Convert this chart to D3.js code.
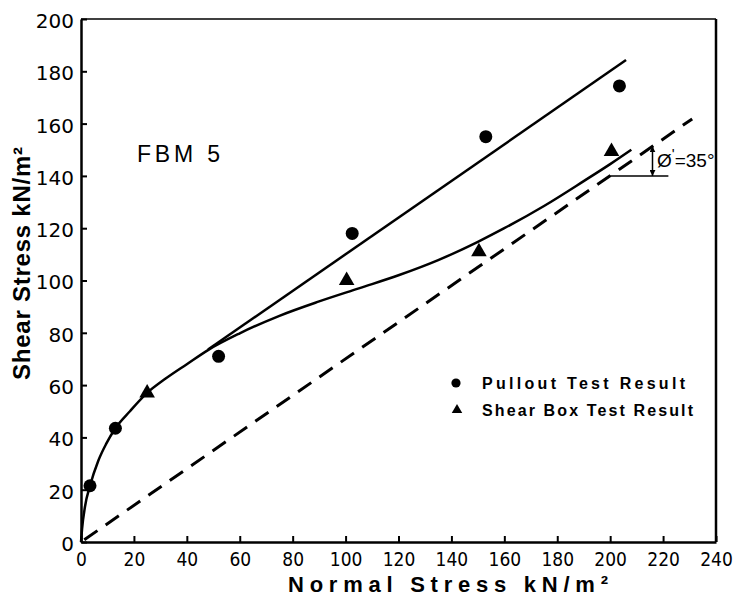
<!DOCTYPE html>
<html>
<head>
<meta charset="utf-8">
<script src="https://cdn.jsdelivr.net/npm/d3@7"></script>
<style>
  html, body { margin: 0; padding: 0; background: #fff; }
  svg { display: block; }
</style>
</head>
<body>
<svg id="chart" width="738" height="599"></svg>
<script>
// ---- data ----
const xTicks = [0, 20, 40, 60, 80, 100, 120, 140, 160, 180, 200, 220, 240];
const yTicks = [0, 20, 40, 60, 80, 100, 120, 140, 160, 180, 200];

const pulloutX = [3.4, 13, 52, 102.5, 153, 203.5];
const pulloutY = [21.5, 43.5, 71, 118, 155, 174.4];

const shearBoxX = [25, 100.4, 150.4, 200.5];
const shearBoxY = [57, 100, 111, 149.3];

// fitted curve through shear box / low pullout results (traced)
const curveX = [0, 0.4, 1.5, 3.4, 6.5, 9.5, 13, 18.5, 25, 32, 40, 48, 60, 75, 90, 105, 120, 135, 150, 160, 175, 190, 200, 208];
const curveY = [0, 5, 13.5, 21.5, 31, 37.5, 43.5, 50, 57, 62.5, 68, 73.4, 79.8, 86.5, 92, 97, 102, 107.8, 114.8, 120, 128.5, 138, 144.5, 150];

// straight pullout envelope
const envX = [48, 206];
const envY = [73.6, 184.3];

// dashed line phi' = 35 deg through origin
const dashX = [0, 231];
const dashY = [0, 161.8];

// angle annotation
const annBaseX = [200, 222];
const annBaseY = [140, 140];
const annArrowX = [216, 216];
const annArrowY = [151.3, 140];

const legendLabels = ["Pullout Test Result", "Shear Box Test Result"];

// ---- drawing ----
const svg = d3.select("#chart");
const x = d3.scaleLinear().domain([0, 240]).range([81, 716]);
const y = d3.scaleLinear().domain([0, 200]).range([542, 19]);

const ink = "#000";

// defs: arrowheads
const defs = svg.append("defs");
defs.append("marker").attr("id", "ah").attr("viewBox", "0 0 10 10")
  .attr("refX", 10).attr("refY", 5).attr("markerWidth", 6).attr("markerHeight", 6)
  .attr("markerUnits", "userSpaceOnUse").attr("orient", "auto-start-reverse")
  .append("path").attr("d", "M0,0 L10,5 L0,10 z").attr("fill", ink);

// frame top and right
svg.append("line").attr("x1", x(0)).attr("x2", x(240)).attr("y1", y(200)).attr("y2", y(200))
  .attr("stroke", ink).attr("stroke-width", 1.5);
svg.append("line").attr("x1", x(240)).attr("x2", x(240)).attr("y1", y(200)).attr("y2", y(0))
  .attr("stroke", ink).attr("stroke-width", 2.5);

// axes
const xAxis = d3.axisBottom(x).tickValues(xTicks).tickSizeInner(-6).tickSizeOuter(0).tickPadding(24)
  .tickFormat(d3.format("d"));
const gx = svg.append("g").attr("transform", `translate(0,${y(0)})`).call(xAxis);
gx.select(".domain").attr("stroke", ink).attr("stroke-width", 2.5);
gx.selectAll(".tick line").attr("stroke", ink).attr("stroke-width", 2);
gx.selectAll(".tick text").attr("font-family", "'DejaVu Sans Condensed','DejaVu Sans',sans-serif")
  .attr("font-size", 19).attr("fill", ink).attr("dy", 0);

const yAxis = d3.axisLeft(y).tickValues(yTicks).tickSizeInner(-6).tickSizeOuter(0).tickPadding(7)
  .tickFormat(d3.format("d"));
const gy = svg.append("g").attr("transform", `translate(${x(0)},0)`).call(yAxis);
gy.select(".domain").attr("stroke", ink).attr("stroke-width", 2.5);
gy.selectAll(".tick line").attr("stroke", ink).attr("stroke-width", 2);
gy.selectAll(".tick text").attr("font-family", "'DejaVu Sans',sans-serif")
  .attr("font-size", 20).attr("fill", ink).attr("dy", "0.42em");
svg.selectAll(".tick text").attr("font-weight", "normal");

// axis titles
svg.append("text").attr("x", 448).attr("y", 592).attr("text-anchor", "middle")
  .attr("font-family", "'Liberation Sans',Arial,sans-serif").attr("font-weight", "bold")
  .attr("font-size", 22).attr("textLength", 320).attr("lengthAdjust", "spacing")
  .attr("fill", ink).text("Normal Stress  kN/m²");

svg.append("text").attr("transform", "translate(30,263.5) rotate(-90)").attr("text-anchor", "middle")
  .attr("font-family", "'Liberation Sans',Arial,sans-serif").attr("font-weight", "bold")
  .attr("font-size", 24).attr("textLength", 233).attr("lengthAdjust", "spacing")
  .attr("fill", ink).text("Shear Stress  kN/m²");

// dashed line
const line = d3.line().x(d => x(d[0])).y(d => y(d[1]));
svg.append("path").datum(d3.zip(dashX, dashY)).attr("d", line)
  .attr("fill", "none").attr("stroke", ink).attr("stroke-width", 3).attr("stroke-dasharray", "16,10")
  .attr("stroke-dashoffset", -4);

// straight envelope
svg.append("path").datum(d3.zip(envX, envY)).attr("d", line)
  .attr("fill", "none").attr("stroke", ink).attr("stroke-width", 2.5);

// curve
const curveLine = d3.line().x(d => x(d[0])).y(d => y(d[1])).curve(d3.curveMonotoneX);
svg.append("path").datum(d3.zip(curveX, curveY)).attr("d", curveLine)
  .attr("fill", "none").attr("stroke", ink).attr("stroke-width", 2.5);

// markers
svg.append("g").selectAll("circle").data(d3.zip(pulloutX, pulloutY)).join("circle")
  .attr("cx", d => x(d[0])).attr("cy", d => y(d[1])).attr("r", 6.5).attr("fill", ink);

const tri = d3.symbol(d3.symbolTriangle, 105);
svg.append("g").selectAll("path").data(d3.zip(shearBoxX, shearBoxY)).join("path")
  .attr("d", tri).attr("transform", d => `translate(${x(d[0])},${y(d[1])})`).attr("fill", ink);

// FBM 5
svg.append("text").attr("x", 137).attr("y", 162)
  .attr("font-family", "'Liberation Sans',Arial,sans-serif").attr("font-size", 23)
  .attr("textLength", 83).attr("lengthAdjust", "spacing").attr("fill", ink).text("FBM 5");

// legend
svg.append("circle").attr("cx", 456).attr("cy", 383).attr("r", 4.6).attr("fill", ink);
svg.append("path").attr("d", d3.symbol(d3.symbolTriangle, 48)).attr("transform", "translate(457,410)").attr("fill", ink);
svg.append("text").attr("x", 482).attr("y", 388.5)
  .attr("font-family", "'Liberation Sans',Arial,sans-serif").attr("font-weight", "bold").attr("font-size", 16)
  .attr("textLength", 203).attr("lengthAdjust", "spacing").attr("fill", ink).text(legendLabels[0]);
svg.append("text").attr("x", 482).attr("y", 415.5)
  .attr("font-family", "'Liberation Sans',Arial,sans-serif").attr("font-weight", "bold").attr("font-size", 16)
  .attr("textLength", 211).attr("lengthAdjust", "spacing").attr("fill", ink).text(legendLabels[1]);

// angle annotation
svg.append("path").datum(d3.zip(annBaseX, annBaseY)).attr("d", line)
  .attr("fill", "none").attr("stroke", ink).attr("stroke-width", 1.5);
svg.append("path").datum(d3.zip(annArrowX, annArrowY)).attr("d", line)
  .attr("fill", "none").attr("stroke", ink).attr("stroke-width", 1.5)
  .attr("marker-start", "url(#ah)").attr("marker-end", "url(#ah)");
const ann = svg.append("text").attr("x", 657).attr("y", 167)
  .attr("font-family", "'Liberation Sans',Arial,sans-serif").attr("font-size", 19).attr("fill", ink);
ann.append("tspan").text("Ø");
ann.append("tspan").attr("dy", -8).attr("font-size", 15).text("'");
ann.append("tspan").attr("dy", 8).text("=35°");
</script>
</body>
</html>
